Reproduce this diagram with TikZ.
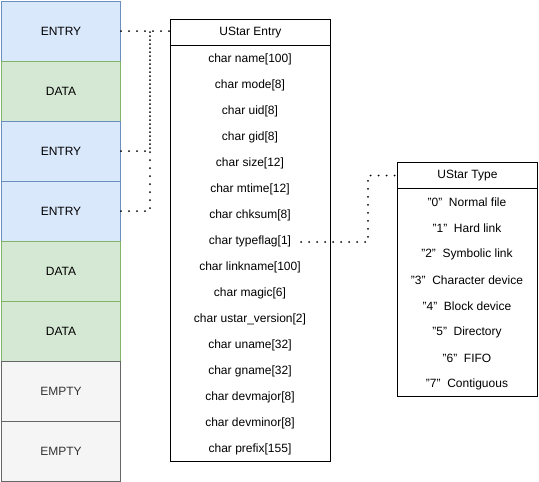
\documentclass[tikz,border=0pt]{standalone}
\usepackage{fontspec}
\setmainfont{Liberation Sans}
\definecolor{eblue}{HTML}{DAE8FC}
\definecolor{eblueline}{HTML}{6C8EBF}
\definecolor{dgreen}{HTML}{D5E8D4}
\definecolor{dgreenline}{HTML}{82B366}
\definecolor{egray}{HTML}{F5F5F5}
\definecolor{egrayline}{HTML}{666666}
\definecolor{egraytext}{HTML}{333333}
\begin{document}
\begin{tikzpicture}[x=1pt,y=-1pt,
  txt/.style={font=\fontsize{12}{14}\selectfont},
  blk/.style={txt,draw,line width=1pt,minimum width=119pt,minimum height=60pt,anchor=north west,inner sep=0pt},
  entryblk/.style={blk,fill=eblue,draw=eblueline},
  datablk/.style={blk,fill=dgreen,draw=dgreenline},
  emptyblk/.style={blk,fill=egray,draw=egrayline,text=egraytext},
  frame/.style={draw,line width=1pt,anchor=north west,inner sep=0pt},
  row/.style={txt,inner sep=0pt},
  conn/.style={line width=2pt,line cap=round,dash pattern=on 0pt off 8pt}
]
\useasboundingbox (0,0) rectangle (539,482);
% left column
\node[entryblk] (e1) at (1,0.5) {ENTRY};
\node[datablk]  (d1) at (1,60.5) {DATA};
\node[entryblk] (e2) at (1,120.5) {ENTRY};
\node[entryblk] (e3) at (1,180.5) {ENTRY};
\node[datablk]  (d2) at (1,240.5) {DATA};
\node[datablk]  (d3) at (1,300.5) {DATA};
\node[emptyblk] (m1) at (1,360.5) {EMPTY};
\node[emptyblk] (m2) at (1,420.5) {EMPTY};
% UStar Entry
\node[frame,minimum width=160pt,minimum height=442pt] (ue) at (170,19) {};
\node[frame,txt,minimum width=160pt,minimum height=26pt] (ueh) at (170,19) {UStar Entry};
\node[row] (r1) at (250,59) {char name[100]};
\node[row] (r2) at (250,85) {char mode[8]};
\node[row] (r3) at (250,111) {char uid[8]};
\node[row] (r4) at (250,137) {char gid[8]};
\node[row] (r5) at (250,163) {char size[12]};
\node[row] (r6) at (250,189) {char mtime[12]};
\node[row] (r7) at (250,215) {char chksum[8]};
\node[row,inner xsep=10pt] (tf) at (250,241) {char typeflag[1]};
\node[row] (r9) at (250,267) {char linkname[100]};
\node[row] (r10) at (250,293) {char magic[6]};
\node[row] (r11) at (250,319) {char ustar\_version[2]};
\node[row] (r12) at (250,345) {char uname[32]};
\node[row] (r13) at (250,371) {char gname[32]};
\node[row] (r14) at (250,397) {char devmajor[8]};
\node[row] (r15) at (250,423) {char devminor[8]};
\node[row] (r16) at (250,449) {char prefix[155]};
% UStar Type
\node[frame,minimum width=140pt,minimum height=234pt] (ut) at (397,162) {};
\node[frame,txt,minimum width=140pt,minimum height=26pt] (uth) at (397,162) {UStar Type};
\node[row] (t0) at (467,202) {"0"\ \ Normal file};
\node[row] (t1) at (467,228) {"1"\ \ Hard link};
\node[row] (t2) at (467,254) {"2"\ \ Symbolic link};
\node[row] (t3) at (467,280) {"3"\ \ Character device};
\node[row] (t4) at (467,306) {"4"\ \ Block device};
\node[row] (t5) at (467,332) {"5"\ \ Directory};
\node[row] (t6) at (467,358) {"6"\ \ FIFO};
\node[row] (t7) at (467,384) {"7"\ \ Contiguous};
% connectors
\coordinate (j) at (150,30);
\draw[conn] (e1.east) -- (e1.east -| ueh.west);
\draw[conn] (e2.east) -| (j);
\draw[conn] (e3.east) -| (j);
\draw[conn] ([yshift=-1pt]tf.east) -| ([xshift=-29pt]uth.west) -- (uth.west);
\end{tikzpicture}
\end{document}
